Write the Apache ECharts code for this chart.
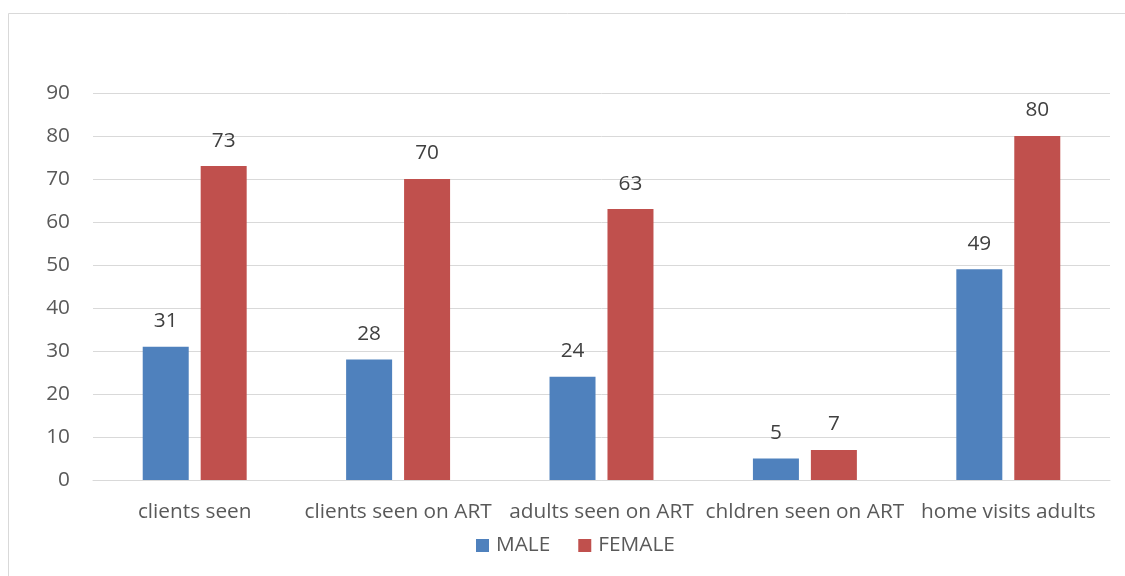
<!DOCTYPE html>
<html><head><meta charset="utf-8">
<script src="https://cdn.jsdelivr.net/npm/echarts@6/dist/echarts.min.js"></script>
<style>html,body{margin:0;padding:0;background:#fff}#c{width:1125px;height:576px}</style>
</head><body><div id="c"></div>
<script>
const categories = ['clients seen','clients seen on ART','adults seen on ART','chldren seen on ART','home visits adults'];
const male = [31, 28, 24, 5, 49];
const female = [73, 70, 63, 7, 80];
const yTicks = {min: 0, max: 90, interval: 10};

const font = '"Open Sans", sans-serif';
const fs = 20.8;
const chart = echarts.init(document.getElementById('c'), null, {renderer: 'canvas'});
chart.setOption({
  animation: false,
  backgroundColor: '#fff',
  graphic: [{type: 'rect', shape: {x: 8.5, y: 13.5, width: 1140, height: 600}, style: {fill: 'none', stroke: '#d9d9d9', lineWidth: 1}}],
  grid: {left: 93, right: 15, top: 93, bottom: 96},
  legend: {
    bottom: 15, left: 471, itemWidth: 13, itemHeight: 13, itemGap: 28, icon: 'rect',
    textStyle: {fontFamily: font, fontSize: fs, color: '#595959', padding: [0, 0, 0, 2]},
    data: ['MALE', 'FEMALE']
  },
  xAxis: {
    type: 'category', data: categories,
    axisLine: {lineStyle: {color: '#d9d9d9', width: 1}},
    axisTick: {show: false},
    axisLabel: {fontFamily: font, fontSize: fs, color: '#595959', margin: 22, interval: 0}
  },
  yAxis: {
    type: 'value', min: yTicks.min, max: yTicks.max, interval: yTicks.interval,
    axisLine: {show: false}, axisTick: {show: false},
    splitLine: {lineStyle: {color: '#d9d9d9', width: 1}},
    axisLabel: {fontFamily: font, fontSize: fs, color: '#595959', margin: 23}
  },
  series: [
    {name: 'MALE', type: 'bar', data: male, barWidth: 46, barGap: '26%',
     itemStyle: {color: '#4F81BD'},
     label: {show: true, position: 'top', distance: 15, fontFamily: font, fontSize: fs, color: '#404040'}},
    {name: 'FEMALE', type: 'bar', data: female, barWidth: 46,
     itemStyle: {color: '#C0504D'},
     label: {show: true, position: 'top', distance: 15, fontFamily: font, fontSize: fs, color: '#404040'}}
  ]
});
</script></body></html>
